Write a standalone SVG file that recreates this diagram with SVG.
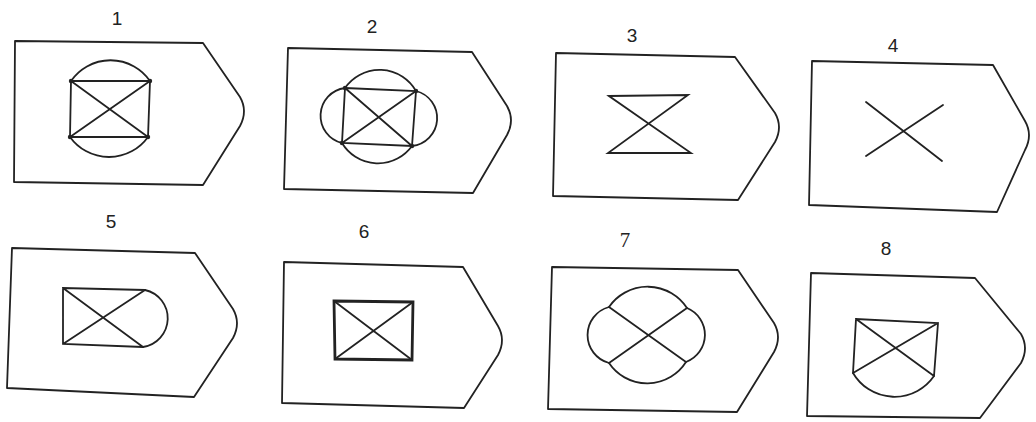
<svg xmlns="http://www.w3.org/2000/svg" width="1036" height="422" viewBox="0 0 1036 422">
<style>
.o{fill:none;stroke:#222;stroke-width:1.8;stroke-linejoin:round}
.i{fill:none;stroke:#222;stroke-width:1.8;stroke-linecap:round}
.b{fill:none;stroke:#222;stroke-width:2.8}
.d{fill:#222}
.t{font-family:"Liberation Sans",Arial,sans-serif;font-size:19px;fill:#222;text-anchor:middle}
.s{font-family:"Liberation Serif","Times New Roman",serif;font-size:21px;fill:#222;text-anchor:middle}
</style>
<rect width="1036" height="422" fill="#fff"/>
<g id="node1">
<text class="t" x="117" y="25">1</text>
<path class="o" d="M15,41 L203,43 L240,97 Q248,111 240,126 L203,185 L14,182 Z"/>
<path class="i" d="M71,81 L150,81 L148,137 L70,137 Z M71,81 L148,137 M150,81 L70,137"/>
<path class="i" d="M71,81 A48,48 0 0 1 150,81 M70,137 A48,48 0 0 0 148,137"/>
<circle class="d" cx="71" cy="81" r="2.2"/><circle class="d" cx="150" cy="81" r="2.2"/><circle class="d" cx="70" cy="137" r="2.2"/><circle class="d" cx="148" cy="137" r="2.2"/>
</g>
<g id="node2">
<text class="t" x="372" y="33">2</text>
<path class="o" d="M288,48 L472,52 L507,106 Q515,120 507,135 L473,193 L284,189 Z"/>
<path class="i" d="M345,88 L416,91 L412,146 L342,143 Z M345,88 L412,146 M416,91 L342,143"/>
<path class="i" d="M345,88 A42,42 0 0 1 416,91 M342,143 A42,42 0 0 0 412,146 M345,88 A28,28 0 0 0 342,143 M416,91 A28,28 0 0 1 412,146"/>
<circle class="d" cx="345" cy="88" r="2.2"/><circle class="d" cx="416" cy="91" r="2.2"/><circle class="d" cx="342" cy="143" r="2.2"/><circle class="d" cx="412" cy="146" r="2.2"/>
</g>
<g id="node3">
<text class="t" x="632" y="42">3</text>
<path class="o" d="M556,53 L735,57 L775,113 Q783,127 775,142 L738,200 L553,196 Z"/>
<path class="i" d="M609,96 L688,95 L608,153 L691,153 Z"/>
</g>
<g id="node4">
<text class="t" x="893" y="52">4</text>
<path class="o" d="M812,61 L993,65 L1025,121 Q1033,135 1025,150 L997,212 L809,205 Z"/>
<path class="i" d="M866,102 L942,161 M866,156 L943,105"/>
</g>
<g id="node5">
<text class="t" x="111" y="228">5</text>
<path class="o" d="M12,248 L195,253 L233,309 Q241,323 233,338 L194,397 L7,388 Z"/>
<path class="i" d="M145,290 L63,288 L63,344 L143,347 M63,288 L143,347 M145,290 L63,344"/>
<path class="i" d="M145,290 A29,29 0 0 1 143,347"/>
</g>
<g id="node6">
<text class="t" x="364" y="238">6</text>
<path class="o" d="M284,262 L463,267 L498,326 Q506,340 498,355 L464,408 L282,403 Z"/>
<path class="b" d="M334,301 L413,302 L412,360 L335,359 Z"/>
<path class="i" d="M334,301 L412,360 M413,302 L335,359"/>
</g>
<g id="node7">
<text class="s" x="625" y="247">7</text>
<path class="o" d="M552,267 L738,270 L774,323 Q782,337 774,352 L737,412 L548,409 Z"/>
<path class="i" d="M609,307 L686,362 M687,308 L609,363"/>
<path class="i" d="M609,307 A47,47 0 0 1 687,308 M609,363 A46,46 0 0 0 686,362 M609,307 A29,29 0 0 0 609,363 M687,308 A29,29 0 0 1 686,362"/>
</g>
<g id="node8">
<text class="t" x="886" y="255">8</text>
<path class="o" d="M811,273 L975,278 L1021,334 Q1029,348 1021,363 L980,418 L807,416 Z"/>
<path class="i" d="M853,373 L856,319 L938,323 L934,376 M856,319 L934,376 M938,323 L853,373"/>
<path class="i" d="M853,373 A48,48 0 0 0 934,376"/>
</g>
<g id="connectors"></g>
</svg>
